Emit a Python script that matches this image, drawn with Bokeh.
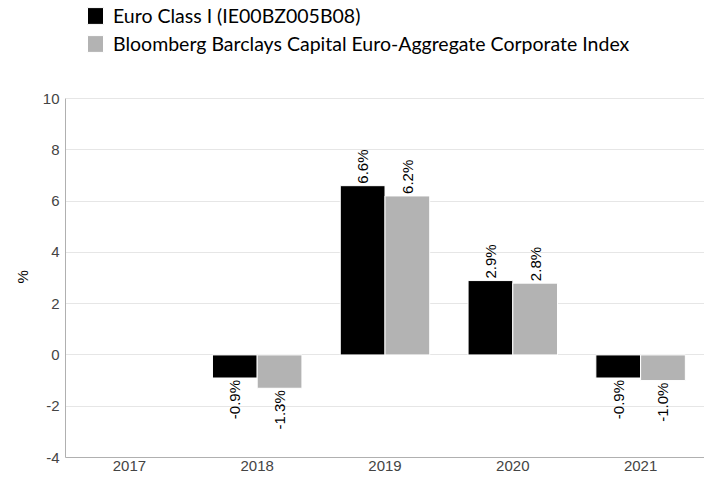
import math
from bokeh.plotting import figure
from bokeh.models import ColumnDataSource, FactorRange, Legend, LegendItem, Title
from bokeh.transform import dodge
from bokeh.core.properties import value
from bokeh.embed import file_html
from bokeh.resources import INLINE

years = ["2017", "2018", "2019", "2020", "2021"]
fund = [float("nan"), -0.9, 6.6, 2.9, -0.9]
index = [float("nan"), -1.3, 6.2, 2.8, -1.0]
fund_name = "Euro Class I (IE00BZ005B08)"
index_name = "Bloomberg Barclays Capital Euro-Aggregate Corporate Index"
y_ticks = [-4, -2, 0, 2, 4, 6, 8, 10]
y_tick_labels = ["-4", "-2", "0", "2", "4", "6", "8", "10"]
y_min, y_max = -4, 10


def labels(vals):
    return ["" if math.isnan(v) else f"{v:.1f}%" for v in vals]


def pos(vals):
    return [v if (not math.isnan(v) and v >= 0) else float("nan") for v in vals]


def neg(vals):
    return [v if (not math.isnan(v) and v < 0) else float("nan") for v in vals]


src = ColumnDataSource(dict(
    years=years, fund=fund, index=index,
    fund_lbl=labels(fund), index_lbl=labels(index),
    fund_pos=pos(fund), fund_neg=neg(fund),
    index_pos=pos(index), index_neg=neg(index),
))

# the frame runs up to the canvas top so the legend can sit above the value area
top_pad = 98 / ((457 - 98) / (y_max - y_min))
p = figure(width=704, height=479, x_range=FactorRange(*years),
           y_range=(y_min, y_max + top_pad),
           output_backend="svg", toolbar_location=None,
           min_border_left=65, min_border_right=0, min_border_top=0, min_border_bottom=22)
p.outline_line_color = None
p.background_fill_color = "white"

w = 0.35
r1 = p.vbar(x=dodge("years", -w / 2, range=p.x_range), top="fund", bottom=0, width=w,
            source=src, fill_color="#000000", line_color="white", line_width=1)
r2 = p.vbar(x=dodge("years", w / 2, range=p.x_range), top="index", bottom=0, width=w,
            source=src, fill_color="#b3b3b3", line_color="white", line_width=1)

common = dict(angle=math.pi / 2, text_baseline="middle", text_font_size="15px",
              text_color="#000000", text_font=value("Liberation Sans"), source=src)
p.text(x=dodge("years", -w / 2, range=p.x_range), y="fund_pos", text="fund_lbl",
       text_align="left", y_offset=-2, **common)
p.text(x=dodge("years", w / 2, range=p.x_range), y="index_pos", text="index_lbl",
       text_align="left", y_offset=-2, **common)
p.text(x=dodge("years", -w / 2, range=p.x_range), y="fund_neg", text="fund_lbl",
       text_align="right", y_offset=2, **common)
p.text(x=dodge("years", w / 2, range=p.x_range), y="index_neg", text="index_lbl",
       text_align="right", y_offset=2, **common)

p.xgrid.grid_line_color = None
p.ygrid.grid_line_color = "#e6e6e6"
p.yaxis.ticker = y_ticks
p.yaxis.major_label_overrides = dict(zip(y_ticks, y_tick_labels))
p.yaxis.bounds = (y_min, y_max)
for ax in (p.xaxis, p.yaxis):
    ax.axis_line_color = "#b0b0b0"
    ax.major_tick_line_color = None
    ax.minor_tick_line_color = None
    ax.major_tick_out = 0
    ax.major_tick_in = 0
    ax.minor_tick_out = 0
    ax.minor_tick_in = 0
    ax.major_label_text_font = "Liberation Sans"
    ax.major_label_text_font_size = "15px"
    ax.major_label_text_color = "#444444"
p.yaxis.major_label_standoff = 6
p.xaxis.major_label_standoff = 3

# y-axis name, placed beside the -4..10 value area rather than the whole frame
y_title = Title(text="%", align="left", offset=174, standoff=18,
                text_font="Liberation Sans", text_font_size="15px",
                text_font_style="normal", text_color="#000000")
p.add_layout(y_title, "left")

legend = Legend(items=[LegendItem(label=fund_name, renderers=[r1]),
                       LegendItem(label=index_name, renderers=[r2])],
                location=(20, 402), orientation="vertical",
                label_text_font="Lato", label_text_font_size="19.5px",
                label_text_color="#000000", glyph_width=20, glyph_height=21,
                label_height=21, spacing=5, padding=0, margin=0,
                label_standoff=8, border_line_color=None, background_fill_alpha=0)
p.add_layout(legend, "center")

open("out.html", "w").write(file_html(p, INLINE))
